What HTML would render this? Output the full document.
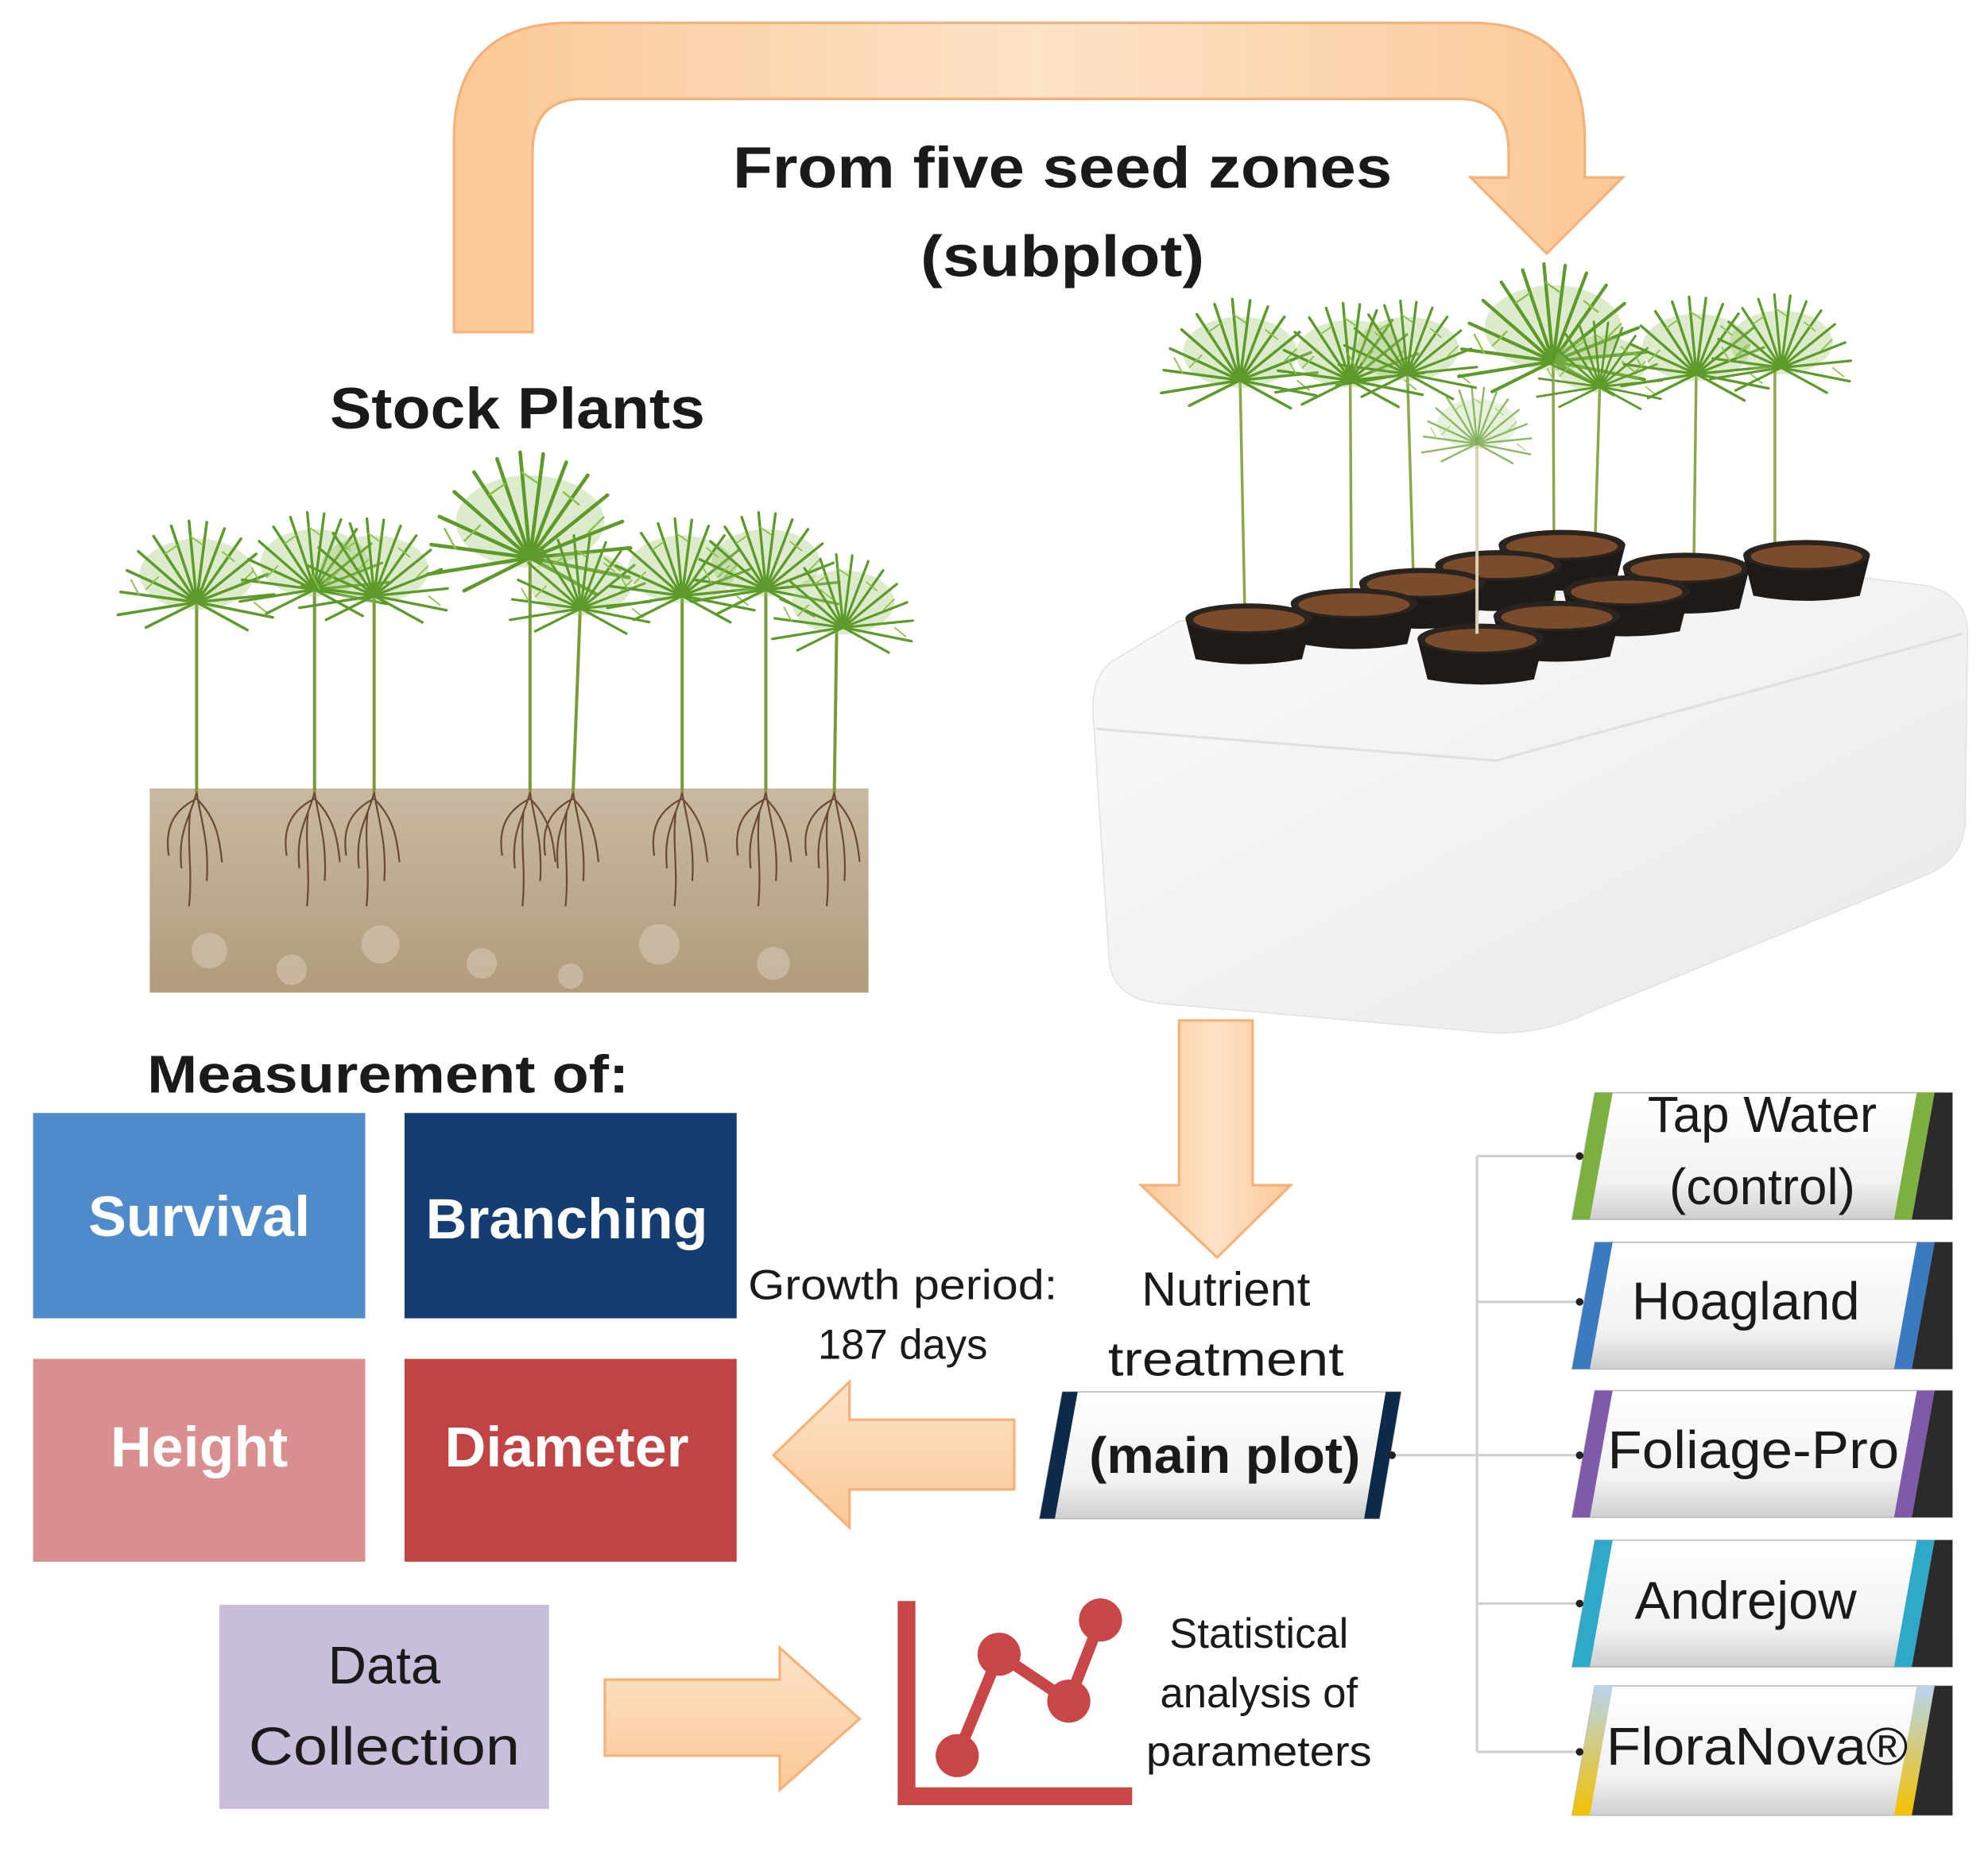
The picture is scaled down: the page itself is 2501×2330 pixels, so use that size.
<!DOCTYPE html>
<html><head><meta charset="utf-8"><style>
html,body{margin:0;padding:0;background:#fff}
svg{display:block}
text{font-family:"Liberation Sans",sans-serif}
</style></head><body>
<svg width="2501" height="2330" viewBox="0 0 1568 1461" xmlns="http://www.w3.org/2000/svg">
<defs>
<linearGradient id="arr" x1="0" y1="0" x2="0" y2="1"><stop offset="0" stop-color="#fde3c8"/><stop offset="1" stop-color="#fbc896"/></linearGradient>
<linearGradient id="arrh" x1="0" y1="0" x2="1" y2="0"><stop offset="0" stop-color="#fbc896"/><stop offset="0.5" stop-color="#fde3c8"/><stop offset="1" stop-color="#fbc896"/></linearGradient>
<linearGradient id="soil" x1="0" y1="0" x2="0" y2="1"><stop offset="0" stop-color="#c9b9a1"/><stop offset="1" stop-color="#b29b7c"/></linearGradient>
<linearGradient id="box" x1="0" y1="0" x2="1" y2="1"><stop offset="0" stop-color="#fafafa"/><stop offset="1" stop-color="#e9e9e9"/></linearGradient>
<linearGradient id="tag" x1="0" y1="0" x2="0" y2="1"><stop offset="0" stop-color="#ffffff"/><stop offset="0.7" stop-color="#f2f2f2"/><stop offset="1" stop-color="#cfcfcf"/></linearGradient>
<g id="crown">
<ellipse cx="0" cy="-22" rx="45" ry="28" fill="#9cc66a" opacity="0.35"/>
<g stroke="#5d9a2a" stroke-width="2.2" fill="none" stroke-linecap="round">
<path d="M0 0 L-62 10"/><path d="M0 0 L-60 -8"/><path d="M0 0 L-55 -25"/><path d="M0 0 L-46 -40"/><path d="M0 0 L-34 -52"/><path d="M0 0 L-20 -60"/><path d="M0 0 L-6 -64"/><path d="M0 0 L8 -63"/><path d="M0 0 L22 -58"/><path d="M0 0 L35 -50"/><path d="M0 0 L47 -38"/><path d="M0 0 L56 -22"/><path d="M0 0 L61 -6"/><path d="M0 0 L60 12"/><path d="M0 0 L-40 20"/><path d="M0 0 L40 22"/>
</g>
<g stroke="#8cc04e" stroke-width="1.2" fill="none"><path d="M-30 -20 L-40 -10 M-25 -38 L-15 -45 M20 -40 L30 -32 M35 -15 L45 -25 M-45 -5 L-52 -18 M5 -45 L-5 -52 M45 0 L55 8"/></g>
</g>
<g id="roots" stroke="#6b4a34" stroke-width="1.4" fill="none"><path d="M0 0 C-5 20 -15 30 -12 60 M0 0 C4 25 10 40 8 70 M0 5 C-20 15 -25 30 -22 50 M0 5 C15 20 18 35 20 55 M-5 15 C-8 40 -3 60 -6 90"/></g>
<g id="pot"><path d="M-50 0 L-42 32 Q0 40 42 32 L50 0 Z" fill="#1d1a18"/><ellipse cx="0" cy="0" rx="50" ry="12" fill="#2a2420"/><ellipse cx="0" cy="1" rx="44" ry="9" fill="#7a4c2c"/></g>
</defs>

<path d="M358 262 L358 110 Q358 18 450 18 L1160 18 Q1250 18 1250 110 L1250 140 L1280 140 L1220 200 L1160 140 L1190 140 L1190 120 Q1190 78 1150 78 L460 78 Q420 78 420 120 L420 262 Z" fill="url(#arrh)" stroke="#f4b27a" stroke-width="2"/>
<text x="578" y="148" font-size="46" font-weight="bold" fill="#1a1a1a" textLength="520" lengthAdjust="spacingAndGlyphs">From five seed zones</text>
<text x="726" y="218" font-size="46" font-weight="bold" fill="#1a1a1a" textLength="224" lengthAdjust="spacingAndGlyphs">(subplot)</text>
<text x="260" y="338" font-size="46" font-weight="bold" fill="#1a1a1a" textLength="296" lengthAdjust="spacingAndGlyphs">Stock Plants</text>

<rect x="118" y="622" width="567" height="161" fill="url(#soil)"/>
<g fill="#d6c8b4" opacity="0.6"><circle cx="165" cy="750" r="14"/><circle cx="230" cy="765" r="12"/><circle cx="300" cy="745" r="15"/><circle cx="380" cy="760" r="12"/><circle cx="520" cy="745" r="16"/><circle cx="610" cy="760" r="13"/><circle cx="450" cy="770" r="10"/></g>
<g stroke="#7a9a3a" stroke-width="2.5">
<line x1="155" y1="470" x2="155" y2="625"/><line x1="248" y1="460" x2="248" y2="625"/><line x1="295" y1="460" x2="295" y2="625"/><line x1="418" y1="430" x2="418" y2="625"/><line x1="458" y1="470" x2="452" y2="625"/><line x1="538" y1="460" x2="538" y2="625"/><line x1="604" y1="460" x2="604" y2="625"/><line x1="660" y1="490" x2="658" y2="625"/>
</g>
<use href="#roots" x="155" y="625"/><use href="#roots" x="248" y="625"/><use href="#roots" x="295" y="625"/><use href="#roots" x="418" y="625"/><use href="#roots" x="452" y="625"/><use href="#roots" x="538" y="625"/><use href="#roots" x="604" y="625"/><use href="#roots" x="658" y="625"/>
<use href="#crown" transform="translate(155,475) scale(1)"/>
<use href="#crown" transform="translate(248,465) scale(0.95)"/>
<use href="#crown" transform="translate(295,470) scale(0.95)"/>
<use href="#crown" transform="translate(418,440) scale(1.3)"/>
<use href="#crown" transform="translate(458,480) scale(0.9)"/>
<use href="#crown" transform="translate(538,470) scale(0.95)"/>
<use href="#crown" transform="translate(604,465) scale(0.95)"/>
<use href="#crown" transform="translate(665,495) scale(0.9)"/>

<path d="M880 520 Q862 530 862 560 L875 760 Q880 790 920 792 L1180 815 Q1220 815 1250 800 L1520 690 Q1548 678 1550 650 L1552 500 Q1552 470 1520 462 L1440 452 L930 490 Z" fill="url(#box)" stroke="#e2e2e2"/>
<path d="M865 575 L1180 600 L1548 500" fill="none" stroke="#e0e0e0" stroke-width="2"/>
<g stroke="#8aa84a" stroke-width="2.2">
<line x1="978" y1="295" x2="982" y2="490"/><line x1="1065" y1="295" x2="1066" y2="478"/><line x1="1110" y1="290" x2="1115" y2="462"/><line x1="1225" y1="275" x2="1226" y2="490"/><line x1="1262" y1="300" x2="1258" y2="432"/><line x1="1338" y1="290" x2="1336" y2="450"/><line x1="1400" y1="285" x2="1400" y2="440"/>
</g>
<use href="#pot" x="1232" y="430"/><use href="#pot" x="1182" y="446"/><use href="#pot" x="1330" y="448"/><use href="#pot" x="1425" y="438"/><use href="#pot" x="1122" y="460"/><use href="#pot" x="1283" y="466"/><use href="#pot" x="1068" y="476"/><use href="#pot" x="1228" y="486"/><use href="#pot" x="985" y="488"/><use href="#pot" x="1168" y="504"/>
<line x1="1165" y1="345" x2="1165" y2="500" stroke="#d9d2b8" stroke-width="2.5"/>
<use href="#crown" transform="translate(978,300) scale(1)"/>
<use href="#crown" transform="translate(1065,300) scale(0.95)"/>
<use href="#crown" transform="translate(1110,295) scale(0.9)"/>
<use href="#crown" transform="translate(1225,285) scale(1.2)"/>
<use href="#crown" transform="translate(1262,305) scale(0.8)"/>
<use href="#crown" transform="translate(1338,295) scale(0.95)"/>
<use href="#crown" transform="translate(1405,290) scale(0.9)"/>
<use href="#crown" transform="translate(1165,350) scale(0.7)" opacity="0.7"/>

<path d="M930 805 L988 805 L988 935 L1018 935 L960 992 L900 935 L930 935 Z" fill="url(#arrh)" stroke="#f4b27a" stroke-width="2"/>

<text x="116" y="862" font-size="42" font-weight="bold" fill="#1a1a1a" textLength="380" lengthAdjust="spacingAndGlyphs">Measurement of:</text>
<rect x="26" y="878" width="262" height="162" fill="#4f8bcb"/>
<rect x="319" y="878" width="262" height="162" fill="#163d72"/>
<rect x="26" y="1072" width="262" height="160" fill="#d98f8f"/>
<rect x="319" y="1072" width="262" height="160" fill="#c04444"/>
<g font-size="45" font-weight="bold" fill="#fff" text-anchor="middle">
<text x="157" y="975">Survival</text><text x="447" y="977">Branching</text><text x="157" y="1157">Height</text><text x="447" y="1157">Diameter</text>
</g>
<text x="712" y="1025" font-size="33" text-anchor="middle" fill="#1a1a1a" textLength="244" lengthAdjust="spacingAndGlyphs">Growth period:</text>
<text x="712" y="1072" font-size="33" text-anchor="middle" fill="#1a1a1a">187 days</text>
<path d="M800 1120 L670 1120 L670 1090 L610 1148 L670 1205 L670 1175 L800 1175 Z" fill="url(#arr)" stroke="#f4b27a" stroke-width="2"/>
<text x="967" y="1030" font-size="38" text-anchor="middle" fill="#1a1a1a">Nutrient</text>
<text x="967" y="1085" font-size="38" text-anchor="middle" fill="#1a1a1a" textLength="186" lengthAdjust="spacingAndGlyphs">treatment</text>

<g stroke="#cfcfcf" stroke-width="2" fill="none">
<path d="M1100 1148 L1245 1148"/><path d="M1165 912 L1165 1382"/>
<path d="M1165 912 L1245 912 M1165 1027 L1245 1027 M1165 1265 L1245 1265 M1165 1382 L1245 1382"/>
</g>

<path d="M838 1098 L1105 1098 L1088 1198 L820 1198 Z" fill="url(#tag)" stroke="#bbb"/>
<path d="M838 1098 L850 1098 L832 1198 L820 1198 Z" fill="#0d2a4a"/>
<path d="M1093 1098 L1105 1098 L1088 1198 L1076 1198 Z" fill="#0d2a4a"/>
<circle cx="1098" cy="1148" r="3" fill="#222"/>
<text x="966" y="1162" font-size="40" font-weight="bold" text-anchor="middle" fill="#1a1a1a" textLength="214" lengthAdjust="spacingAndGlyphs">(main plot)</text>

<g>
<path d="M1258 862 L1540 862 L1540 962 L1240 962 Z" fill="url(#tag)" stroke="#bbb"/>
<path d="M1258 862 L1272 862 L1254 962 L1240 962 Z" fill="#7db040"/>
<path d="M1512 862 L1526 862 L1508 962 L1494 962 Z" fill="#7db040"/><path d="M1526 862 L1540 862 L1540 962 L1508 962 Z" fill="#2b2b2b"/>
<circle cx="1246" cy="912" r="3" fill="#222"/>
<text x="1390" y="893" font-size="40" text-anchor="middle" fill="#1a1a1a">Tap Water</text>
<text x="1390" y="950" font-size="40" text-anchor="middle" fill="#1a1a1a">(control)</text>
</g>
<g>
<path d="M1258 980 L1540 980 L1540 1080 L1240 1080 Z" fill="url(#tag)" stroke="#bbb"/>
<path d="M1258 980 L1272 980 L1254 1080 L1240 1080 Z" fill="#3b7ac0"/>
<path d="M1512 980 L1526 980 L1508 1080 L1494 1080 Z" fill="#3b7ac0"/><path d="M1526 980 L1540 980 L1540 1080 L1508 1080 Z" fill="#2b2b2b"/>
<circle cx="1246" cy="1027" r="3" fill="#222"/>
<text x="1377" y="1041" font-size="42" text-anchor="middle" fill="#1a1a1a">Hoagland</text>
</g>
<g>
<path d="M1258 1097 L1540 1097 L1540 1197 L1240 1197 Z" fill="url(#tag)" stroke="#bbb"/>
<path d="M1258 1097 L1272 1097 L1254 1197 L1240 1197 Z" fill="#7e5aa8"/>
<path d="M1512 1097 L1526 1097 L1508 1197 L1494 1197 Z" fill="#7e5aa8"/><path d="M1526 1097 L1540 1097 L1540 1197 L1508 1197 Z" fill="#2b2b2b"/>
<circle cx="1246" cy="1148" r="3" fill="#222"/>
<text x="1383" y="1158" font-size="42" text-anchor="middle" fill="#1a1a1a" textLength="230" lengthAdjust="spacingAndGlyphs">Foliage-Pro</text>
</g>
<g>
<path d="M1258 1215 L1540 1215 L1540 1315 L1240 1315 Z" fill="url(#tag)" stroke="#bbb"/>
<path d="M1258 1215 L1272 1215 L1254 1315 L1240 1315 Z" fill="#30a8c8"/>
<path d="M1512 1215 L1526 1215 L1508 1315 L1494 1315 Z" fill="#30a8c8"/><path d="M1526 1215 L1540 1215 L1540 1315 L1508 1315 Z" fill="#2b2b2b"/>
<circle cx="1246" cy="1265" r="3" fill="#222"/>
<text x="1377" y="1277" font-size="42" text-anchor="middle" fill="#1a1a1a">Andrejow</text>
</g>
<g>
<defs><linearGradient id="fn" x1="0" y1="0" x2="0" y2="1"><stop offset="0" stop-color="#b8d4ee"/><stop offset="1" stop-color="#f2c200"/></linearGradient></defs>
<path d="M1258 1330 L1540 1330 L1540 1432 L1240 1432 Z" fill="url(#tag)" stroke="#bbb"/>
<path d="M1258 1330 L1272 1330 L1254 1432 L1240 1432 Z" fill="url(#fn)"/>
<path d="M1512 1330 L1526 1330 L1508 1432 L1494 1432 Z" fill="url(#fn)"/><path d="M1526 1330 L1540 1330 L1540 1432 L1508 1432 Z" fill="#2b2b2b"/>
<circle cx="1246" cy="1382" r="3" fill="#222"/>
<text x="1386" y="1392" font-size="42" text-anchor="middle" fill="#1a1a1a" textLength="238" lengthAdjust="spacingAndGlyphs">FloraNova®</text>
</g>

<rect x="173" y="1266" width="260" height="161" fill="#c8bedb"/>
<text x="303" y="1328" font-size="42" text-anchor="middle" fill="#1a1a1a">Data</text>
<text x="303" y="1392" font-size="42" text-anchor="middle" fill="#1a1a1a" textLength="214" lengthAdjust="spacingAndGlyphs">Collection</text>
<path d="M477 1325 L615 1325 L615 1300 L678 1356 L615 1412 L615 1385 L477 1385 Z" fill="url(#arr)" stroke="#f4b27a" stroke-width="2"/>

<path d="M708 1263 L722 1263 L722 1410 L893 1410 L893 1424 L708 1424 Z" fill="#c84646"/>
<polyline points="755,1385 788,1305 843,1342 868,1278" fill="none" stroke="#c84646" stroke-width="9" stroke-linejoin="round"/>
<g fill="#c84646"><circle cx="755" cy="1385" r="17"/><circle cx="788" cy="1305" r="17"/><circle cx="843" cy="1342" r="17"/><circle cx="868" cy="1278" r="17"/></g>
<g font-size="33" text-anchor="middle" fill="#1a1a1a"><text x="993" y="1300">Statistical</text><text x="993" y="1347">analysis of</text><text x="993" y="1393" textLength="178" lengthAdjust="spacingAndGlyphs">parameters</text></g>
</svg>
</body></html>
